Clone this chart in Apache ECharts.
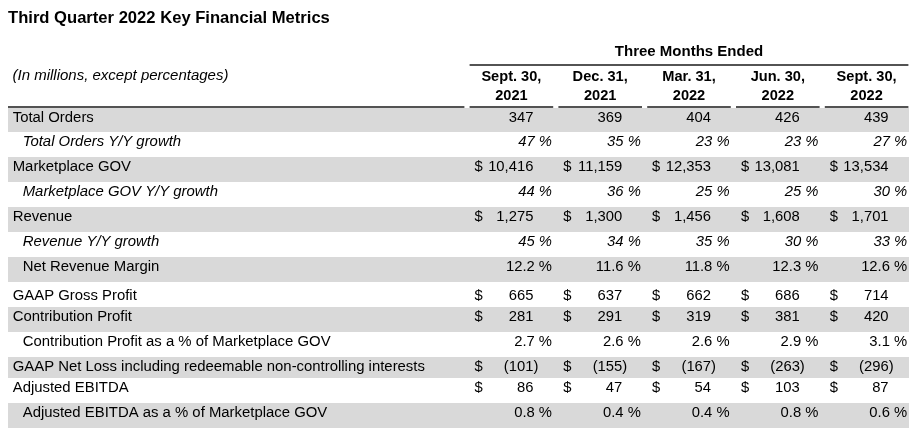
<!DOCTYPE html>
<html><head><meta charset="utf-8">
<script src="https://cdn.jsdelivr.net/npm/echarts@6/dist/echarts.min.js"></script>
<style>html,body{margin:0;padding:0;background:#fff}#chart{width:918px;height:441px}</style>
</head><body><div id="chart"></div>
<script>
// ---------- data ----------
const titleText = 'Third Quarter 2022 Key Financial Metrics';
const unitsNote = '(In millions, except percentages)';
const periodGroup = 'Three Months Ended';
const periods = ['Sept. 30,\n2021', 'Dec. 31,\n2021', 'Mar. 31,\n2022', 'Jun. 30,\n2022', 'Sept. 30,\n2022'];
const rowLabels = [
  'Total Orders',
  'Total Orders Y/Y growth',
  'Marketplace GOV',
  'Marketplace GOV Y/Y growth',
  'Revenue',
  'Revenue Y/Y growth',
  'Net Revenue Margin',
  'GAAP Gross Profit',
  'Contribution Profit',
  'Contribution Profit as a % of Marketplace GOV',
  'GAAP Net Loss including redeemable non-controlling interests',
  'Adjusted EBITDA',
  'Adjusted EBITDA as a % of Marketplace GOV'
];
const totalOrders = [347, 369, 404, 426, 439];
const totalOrdersGrowth = [47, 35, 23, 23, 27];
const marketplaceGOV = [10416, 11159, 12353, 13081, 13534];
const marketplaceGOVGrowth = [44, 36, 25, 25, 30];
const revenue = [1275, 1300, 1456, 1608, 1701];
const revenueGrowth = [45, 34, 35, 30, 33];
const netRevenueMargin = [12.2, 11.6, 11.8, 12.3, 12.6];
const gaapGrossProfit = [665, 637, 662, 686, 714];
const contributionProfit = [281, 291, 319, 381, 420];
const contributionProfitPct = [2.7, 2.6, 2.6, 2.9, 3.1];
const gaapNetLoss = [-101, -155, -167, -263, -296];
const adjustedEBITDA = [86, 47, 54, 103, 87];
const adjustedEBITDAPct = [0.8, 0.4, 0.4, 0.8, 0.6];

const rowValues = [totalOrders, totalOrdersGrowth, marketplaceGOV, marketplaceGOVGrowth, revenue, revenueGrowth,
  netRevenueMargin, gaapGrossProfit, contributionProfit, contributionProfitPct, gaapNetLoss, adjustedEBITDA, adjustedEBITDAPct];
const rowFormats = ['count', 'growth', 'usd', 'growth', 'usd', 'growth', 'pct', 'usd', 'usd', 'pct', 'usd', 'usd', 'pct'];
const rowIndented = [false, true, false, true, false, true, true, false, false, true, false, false, true];

// ---------- layout ----------
const rowHeights = [24, 25, 25, 25, 25, 25, 25, 25, 25, 25, 21, 25, 25];
const rowSpaceAbove = [0, 0, 0, 0, 0, 0, 0, 4, 0, 0, 0, 0, 0];
const rowTops = [];
rowHeights.reduce((acc, h, i) => { rowTops[i] = acc; return acc + h; }, 0);
const tableHeight = rowHeights.reduce((a, b) => a + b, 0);
const textY = i => rowTops[i] + rowSpaceAbove[i] + 10;

const FONT = '"Liberation Sans", Arial, Helvetica, sans-serif';
const FS_LABEL = 14.9;
const FS_VALUE = 14.8;
const FS_HEAD = 14.6;
const INK = '#000';
const BAND = '#d9d9d9';
const RULE = '#1a1a1a';

function fmtNum(v) {
  const s = Math.abs(v).toLocaleString('en-US');
  return v < 0 ? '(' + s + ')' : s;
}

const chart = echarts.init(document.getElementById('chart'), null, { renderer: 'canvas' });

const bandData = rowLabels.map((l, i) => i).filter(i => i % 2 === 0);

const cellData = [];
rowValues.forEach((vals, r) => vals.forEach((v, c) => cellData.push([c, r, v])));

function bandRender(trimRight) {
  return function (params, api) {
    const r = api.value(1);
    const cs = params.coordSys;
    const y0 = api.coord([0, rowTops[r]])[1];
    const y1 = api.coord([0, rowTops[r] + rowHeights[r]])[1];
    return { type: 'rect', shape: { x: cs.x, y: y0, width: cs.width - trimRight, height: y1 - y0 }, style: { fill: BAND } };
  };
}

const option = {
  animation: false,
  backgroundColor: '#fff',
  title: [
    { text: titleText, left: 8, top: 8, padding: 0,
      textStyle: { fontFamily: FONT, fontSize: 16.6, fontWeight: 'bold', color: INK, lineHeight: 20 } },
    { text: unitsNote, left: 12.5, top: 67, padding: 0,
      textStyle: { fontFamily: FONT, fontSize: 15, fontWeight: 'normal', fontStyle: 'italic', color: INK, lineHeight: 18 } }
  ],
  grid: [
    { left: 8, top: 108, width: 459, height: tableHeight },
    { left: 467, top: 108, right: 7, height: tableHeight }
  ],
  xAxis: [
    { gridIndex: 0, type: 'value', min: 0, max: 1, show: false },
    { gridIndex: 1, type: 'category', data: periods, position: 'top',
      axisLine: { show: false }, axisTick: { show: false }, splitLine: { show: false },
      axisLabel: { fontFamily: FONT, fontSize: FS_HEAD, fontWeight: 'bold', color: INK, lineHeight: 19.5, margin: 2 } }
  ],
  yAxis: [
    { gridIndex: 0, type: 'value', min: 0, max: tableHeight, inverse: true, show: false },
    { gridIndex: 1, type: 'value', min: 0, max: tableHeight, inverse: true, show: false }
  ],
  series: [
    // row bands
    { type: 'custom', xAxisIndex: 0, yAxisIndex: 0, z: 1, clip: false, silent: true,
      data: bandData.map(i => [0, i]), encode: { x: 0, y: 1 }, renderItem: bandRender(0) },
    { type: 'custom', xAxisIndex: 1, yAxisIndex: 1, z: 1, clip: false, silent: true,
      data: bandData.map(i => [0, i]), encode: { x: 0, y: 1 }, renderItem: bandRender(2) },
    // row labels + label column top rule
    { type: 'custom', xAxisIndex: 0, yAxisIndex: 0, z: 3, clip: false, silent: true,
      data: rowLabels.map((l, i) => [0, i]), encode: { x: 0, y: 1 },
      renderItem: function (params, api) {
        const r = api.value(1);
        const cs = params.coordSys;
        const y = api.coord([0, textY(r)])[1];
        const children = [{
          type: 'text', x: cs.x + (rowIndented[r] ? 14.7 : 4.7), y: y,
          style: { text: rowLabels[r], fill: INK, align: 'left', verticalAlign: 'middle',
            font: (rowFormats[r] === 'growth' ? 'italic ' : '') + FS_LABEL + 'px ' + FONT }
        }];
        if (r === 0) {
          children.push({ type: 'line', shape: { x1: cs.x, y1: cs.y - 1, x2: cs.x + cs.width - 2.6, y2: cs.y - 1 },
            style: { stroke: RULE, lineWidth: 1.6 } });
        }
        return { type: 'group', children };
      } },
    // period header rules
    { type: 'custom', xAxisIndex: 1, yAxisIndex: 1, z: 3, clip: false, silent: true,
      data: periods.map((p, i) => [i, 0]), encode: { x: 0, y: 1 },
      renderItem: function (params, api) {
        const c = api.value(0);
        const cs = params.coordSys;
        const cx = api.coord([c, 0])[0];
        const w = api.size([1, 0])[0];
        const children = [{ type: 'line', shape: { x1: cx - w / 2 + 2.6, y1: cs.y - 1, x2: cx + w / 2 - 2.6, y2: cs.y - 1 },
          style: { stroke: RULE, lineWidth: 1.6 } }];
        if (c === 0) {
          const xL = cx - w / 2 + 2.6;
          const xR = api.coord([periods.length - 1, 0])[0] + w / 2 - 2.6;
          children.push({ type: 'line', shape: { x1: xL, y1: cs.y - 43, x2: xR, y2: cs.y - 43 },
            style: { stroke: RULE, lineWidth: 1.4 } });
          children.push({ type: 'text', x: (xL + xR) / 2, y: cs.y - 56,
            style: { text: periodGroup, fill: INK, align: 'center', verticalAlign: 'middle', font: 'bold 15px ' + FONT } });
        }
        return { type: 'group', children };
      } },
    // cell values
    { type: 'custom', xAxisIndex: 1, yAxisIndex: 1, z: 3, clip: false, silent: true,
      data: cellData, encode: { x: 0, y: 1 },
      renderItem: function (params, api) {
        const c = api.value(0), r = api.value(1), v = api.value(2);
        const p = api.coord([c, textY(r)]);
        const w = api.size([1, 0])[0];
        const cx = p[0], y = p[1];
        const fmt = rowFormats[r];
        const font = (fmt === 'growth' ? 'italic ' : '') + FS_VALUE + 'px ' + FONT;
        const children = [];
        if (fmt === 'usd') {
          children.push({ type: 'text', x: cx - w / 2 + 7.5, y, style: { text: '$', fill: INK, align: 'left', verticalAlign: 'middle', font } });
          children.push({ type: 'text', x: cx + (v < 0 ? 27 : 22), y, style: { text: fmtNum(v), fill: INK, align: 'right', verticalAlign: 'middle', font } });
        } else if (fmt === 'count') {
          children.push({ type: 'text', x: cx + 22, y, style: { text: fmtNum(v), fill: INK, align: 'right', verticalAlign: 'middle', font } });
        } else {
          const s = (fmt === 'pct' ? v.toFixed(1) : String(v)) + ' %';
          children.push({ type: 'text', x: cx + 40.6, y, style: { text: s, fill: INK, align: 'right', verticalAlign: 'middle', font } });
        }
        return { type: 'group', children };
      } }
  ]
};
chart.setOption(option);
</script>
</body></html>
